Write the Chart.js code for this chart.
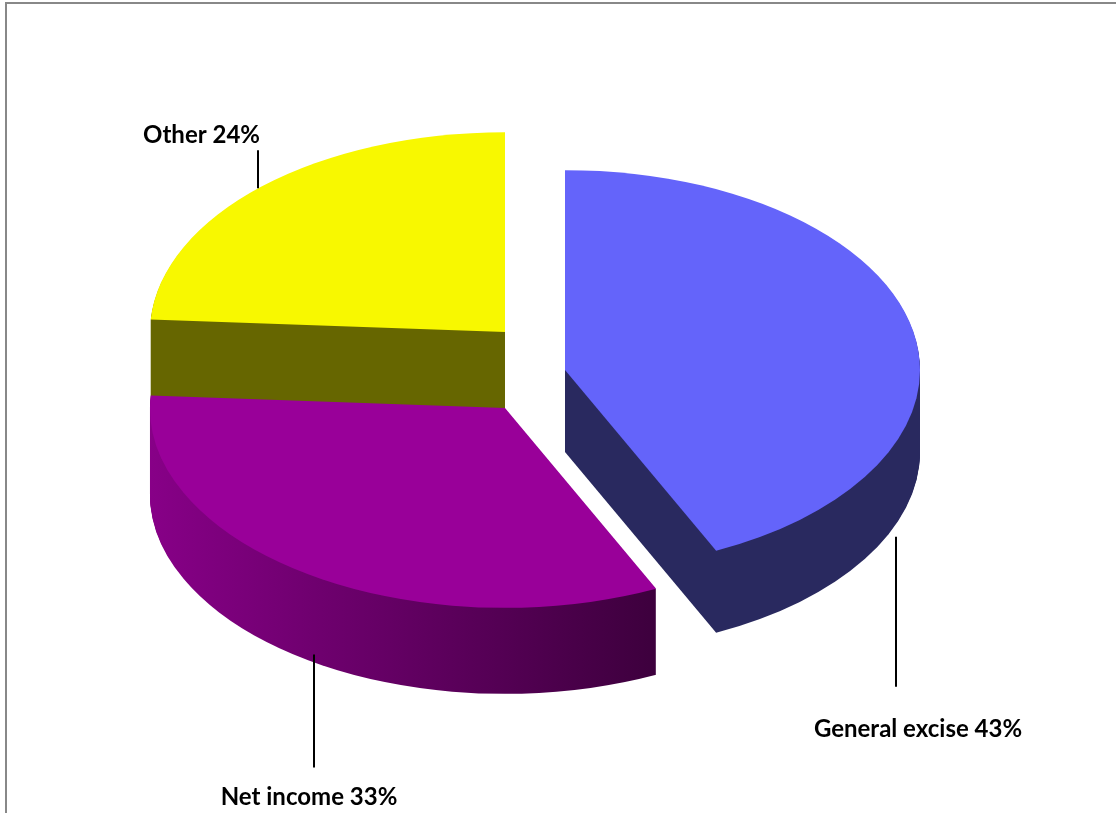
<!DOCTYPE html>
<html>
<head>
<meta charset="utf-8">
<script src="https://cdn.jsdelivr.net/npm/chart.js"></script>
<style>
  html, body { margin: 0; padding: 0; background: #fff; overflow: hidden; }
  #wrap { position: absolute; left: 0; top: 0; width: 1116px; height: 813px; }
  #frame { position: absolute; left: 5px; top: 2px; width: 1200px; height: 900px;
           border-left: 2px solid #888; border-top: 2px solid #888; }
  #pie { position: absolute; left: 0; top: 0; }
</style>
</head>
<body>
<div id="wrap">
  <div id="frame"></div>
  <canvas id="pie" width="1116" height="813"></canvas>
</div>
<script>
// data
const categories = ['General excise', 'Net income', 'Other'];
const shares = [43, 33, 24];

// looks
const topColors = ['#6464FA', '#990099', '#F8F800'];
const sideColors = [['#29295F', '#29295F'], ['#870087', '#3D003D'], ['#666600', '#666600']];
const sliceShift = [[60, -38], [0, 0], [0, -76]];   // exploded slices, px
const depth = [82, 86, 78];
const tilt = 0.563;                                   // ellipse ry / rx
const leaders = [
  {deg: 21,    from: 'bottom', gap: 13, len: 150, dx: 22, dy: 50, align: 'center'},
  {deg: 122.6, from: 'bottom', gap: -8, len: 113, dx: -5, dy: 38, align: 'center'},
  {deg: 226,   from: 'top',    gap: 0,  len: 38,  dx: 2,  dy: -7, align: 'right'}
];

function sector(ctx, cx, cy, rx, ry, a0, a1) {
  ctx.beginPath();
  ctx.moveTo(cx, cy);
  ctx.ellipse(cx, cy, rx, ry, 0, a0, a1);
  ctx.closePath();
}

const pie3d = {
  id: 'pie3d',
  beforeDatasetsDraw(chart) {
    const ctx = chart.ctx;
    const arcs = chart.getDatasetMeta(0).data;
    ctx.save();
    // side walls: stacked copies of each slice pushed down
    arcs.forEach((arc, i) => {
      const cx = arc.x + sliceShift[i][0], cy = arc.y + sliceShift[i][1];
      const rx = arc.outerRadius, ry = rx * tilt;
      const g = ctx.createLinearGradient(cx - rx, 0, cx + rx * Math.cos(arc.startAngle), 0);
      g.addColorStop(0, sideColors[i][0]);
      g.addColorStop(1, sideColors[i][1]);
      ctx.fillStyle = g;
      for (let t = depth[i]; t >= 1; t--) {
        sector(ctx, cx, cy + t, rx, ry, arc.startAngle, arc.endAngle);
        ctx.fill();
      }
    });
    // top faces
    arcs.forEach((arc, i) => {
      const cx = arc.x + sliceShift[i][0], cy = arc.y + sliceShift[i][1];
      const rx = arc.outerRadius, ry = rx * tilt;
      ctx.fillStyle = topColors[i];
      sector(ctx, cx, cy, rx, ry, arc.startAngle, arc.endAngle);
      ctx.fill();
    });
    ctx.restore();
    return false;
  },
  afterDraw(chart) {
    const ctx = chart.ctx;
    const arcs = chart.getDatasetMeta(0).data;
    ctx.save();
    ctx.strokeStyle = '#000';
    ctx.lineWidth = 2;
    ctx.fillStyle = '#000';
    ctx.font = 'bold 24px Lato, "Liberation Sans", sans-serif';
    ctx.textBaseline = 'alphabetic';
    arcs.forEach((arc, i) => {
      const L = leaders[i];
      const a = L.deg * Math.PI / 180;
      const cx = arc.x + sliceShift[i][0], cy = arc.y + sliceShift[i][1];
      const rx = arc.outerRadius, ry = rx * tilt;
      const x = Math.round(cx + rx * Math.cos(a));
      let y0 = cy + ry * Math.sin(a);
      const dir = L.from === 'bottom' ? 1 : -1;
      if (L.from === 'bottom') y0 += depth[i];
      y0 += L.gap * dir;
      const y1 = y0 + L.len * dir;
      ctx.beginPath();
      ctx.moveTo(x, y0);
      ctx.lineTo(x, y1);
      ctx.stroke();
      ctx.textAlign = L.align;
      ctx.fillText(categories[i] + ' ' + shares[i] + '%', x + L.dx, y1 + L.dy);
    });
    ctx.restore();
  }
};

const data = {
  labels: categories,
  datasets: [{
    data: shares,
    backgroundColor: topColors,
    borderWidth: 0,
    radius: 355
  }]
};

const options = {
  responsive: false,
  animation: false,
  layout: { padding: { left: 150, right: 256, top: 53, bottom: 50 } },
  plugins: {
    legend: { display: false },
    tooltip: { enabled: false }
  }
};

const pie = new Chart(document.getElementById('pie'), {
  type: 'pie',
  data: data,
  options,
  plugins: [pie3d]
});
</script>
</body>
</html>
